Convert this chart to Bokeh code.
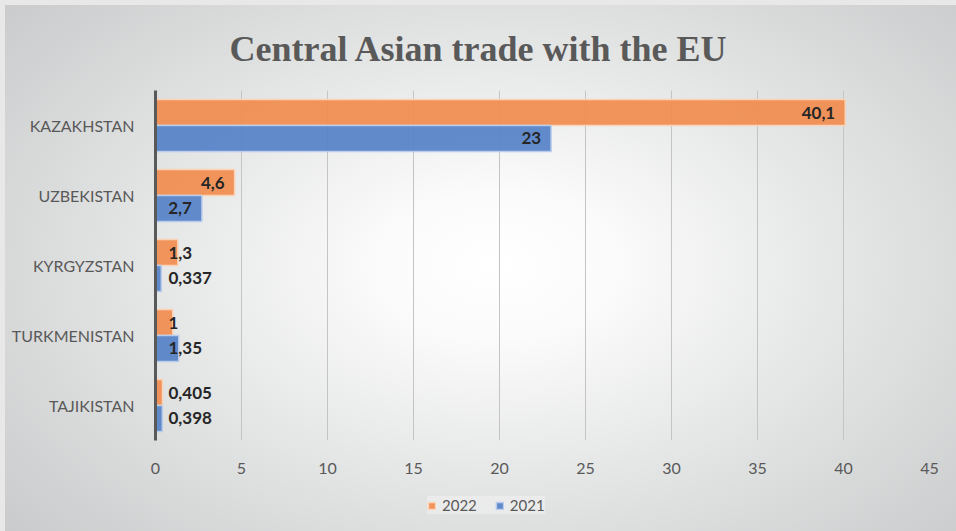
from bokeh.plotting import figure
from bokeh.layouts import column
from bokeh.models import (ColumnDataSource, FactorRange, Range1d, FixedTicker,
                          Title, Legend, LegendItem)
from bokeh.transform import dodge
from bokeh.core.properties import value, field
from bokeh.embed import file_html
from bokeh.resources import INLINE

# ---------------- data ----------------
COUNTRIES = ["KAZAKHSTAN", "UZBEKISTAN", "KYRGYZSTAN", "TURKMENISTAN", "TAJIKISTAN"]
Y2022 = [40.1, 4.6, 1.3, 1.0, 0.405]
Y2021 = [23.0, 2.7, 0.337, 1.35, 0.398]
SERIES = ["2022", "2021"]
X_TICKS = [0, 5, 10, 15, 20, 25, 30, 35, 40, 45]
TITLE = "Central Asian trade with the EU"

# ---------------- layout ----------------
W, H = 956, 531
H_MAIN = 480
LEFT, TOP, RIGHT, BOTTOM = 155, 90, 27, 40
FRAME_W = W - LEFT - RIGHT
X_MAX = X_TICKS[-1]
PX = FRAME_W / X_MAX

ORANGE = "#F08D50"
BLUE = "#5682C8"
TXT = "#595959"


def fmt(v):
    return f"{v:g}".replace(".", ",")


def label_cols(vals):
    xs, offs, aligns, texts = [], [], [], []
    for v in vals:
        t = fmt(v)
        est = 9.5 * sum(ch.isdigit() for ch in t) + 4 * ("," in t)
        texts.append(t)
        if v * PX - 10 - est >= 12:
            xs.append(v); offs.append(-10); aligns.append("right")
        else:
            xs.append(0); offs.append(13); aligns.append("left")
    return xs, offs, aligns, texts


lx22, lo22, la22, lt22 = label_cols(Y2022)
lx21, lo21, la21, lt21 = label_cols(Y2021)

src = ColumnDataSource(dict(
    country=COUNTRIES, y2022=Y2022, y2021=Y2021,
    lx22=lx22, lo22=lo22, la22=la22, lt22=lt22,
    lx21=lx21, lo21=lo21, la21=la21, lt21=lt21,
))

p = figure(width=W, height=H_MAIN,
           y_range=FactorRange(*reversed(COUNTRIES), range_padding=0),
           x_range=Range1d(0, X_MAX),
           output_backend="svg", toolbar_location=None,
           min_border_left=LEFT, min_border_right=RIGHT,
           min_border_top=TOP, min_border_bottom=BOTTOM)

p.border_fill_color = None
p.background_fill_color = None
p.outline_line_color = None

BH = 0.37
BAR22 = dict(fill_color=ORANGE, fill_alpha=0.93, line_color="#FBD3B6", line_width=1.5)
BAR21 = dict(fill_color=BLUE, fill_alpha=0.93, line_color="#B9CCEB", line_width=1.5)
r22 = p.hbar(y=dodge("country", BH / 2, range=p.y_range), left=0, right="y2022",
             height=BH, source=src, **BAR22)
r21 = p.hbar(y=dodge("country", -BH / 2, range=p.y_range), left=0, right="y2021",
             height=BH, source=src, **BAR21)

for col, d in (("22", BH / 2), ("21", -BH / 2)):
    p.text(x="lx" + col, y=dodge("country", d, range=p.y_range), text="lt" + col,
           x_offset=field("lo" + col), text_align=field("la" + col),
           text_baseline="middle", text_font=value("Lato"),
           text_font_style="bold", text_font_size="17px", text_color="#262626",
           source=src)

# axes
p.xaxis.ticker = FixedTicker(ticks=X_TICKS)
p.xgrid.ticker = FixedTicker(ticks=X_TICKS)
p.xgrid.grid_line_color = "#c4c4c4"
p.xgrid.grid_line_width = 1
p.ygrid.grid_line_color = None
p.xaxis.axis_line_color = None
p.xaxis.major_tick_line_color = None
p.xaxis.minor_tick_line_color = None
p.xaxis.major_label_standoff = 16
p.xaxis.major_label_text_font = "Lato"
p.xaxis.major_label_text_font_size = "16px"
p.xaxis.major_label_text_color = TXT

p.yaxis.axis_line_color = TXT
p.yaxis.axis_line_width = 3
p.yaxis.major_tick_line_color = None
p.yaxis.minor_tick_line_color = None
p.yaxis.major_label_standoff = 15
p.yaxis.major_label_text_font = "Lato"
p.yaxis.major_label_text_font_size = "16px"
p.yaxis.major_label_text_color = TXT

# title
p.add_layout(Title(text=TITLE, align="left", offset=74, standoff=43,
                   text_font="Liberation Serif", text_font_style="bold",
                   text_font_size="36px", text_color=TXT), "above")

# legend strip (separate figure below the chart)
pl = figure(width=W, height=H - H_MAIN, x_range=Range1d(-1001, -1000), y_range=Range1d(0, 1),
            output_backend="svg", toolbar_location=None, min_border=0)
pl.axis.visible = False
pl.grid.visible = False
pl.border_fill_color = None
pl.background_fill_color = None
pl.outline_line_color = None
# legend proxies: same data, lying outside the strip's visible ranges
lr22 = pl.hbar(y=-5, left=0, right="y2022", height=0.1, source=src, **BAR22)
lr21 = pl.hbar(y=-5, left=0, right="y2021", height=0.1, source=src, **BAR21)

legend = Legend(items=[LegendItem(label=SERIES[0], renderers=[lr22]),
                       LegendItem(label=SERIES[1], renderers=[lr21])],
                location=(272, 17), orientation="horizontal",
                glyph_width=9, glyph_height=9, label_standoff=6, spacing=18,
                padding=8, label_height=18, margin=0,
                label_text_font="Lato", label_text_font_size="15px",
                label_text_color=TXT,
                background_fill_color="#f4f4f4", background_fill_alpha=0.5,
                border_line_color=None)
pl.add_layout(legend, "center")

layout = column(p, pl, spacing=0)
layout.styles = {
    "background": "radial-gradient(ellipse 75% 85% at 52% 50%, #ffffff 0%, #fbfbfb 16%, #e2e3e3 52%, #c3c5c6 100%)",
    "box-shadow": "inset 5px 5px 0 0 #e8e8e8",
}

open("out.html", "w").write(file_html(layout, INLINE))
